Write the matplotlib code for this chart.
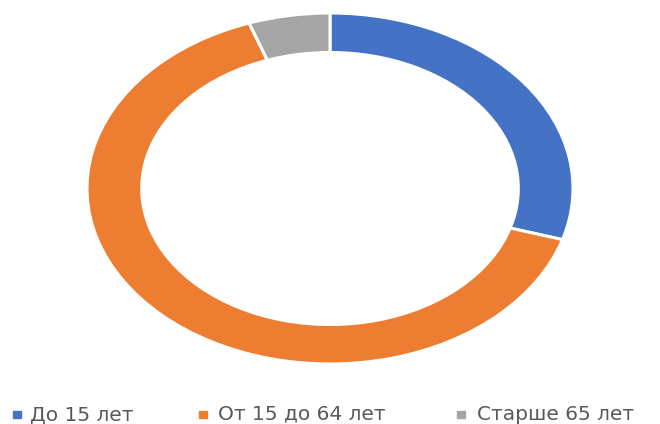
import matplotlib
matplotlib.use("Agg")
import matplotlib.pyplot as plt
from matplotlib.patches import Rectangle

labels = ["До 15 лет", "От 15 до 64 лет", "Старше 65 лет"]
shares = [29.7, 64.9, 5.4]
colors = ["#4472C4", "#ED7D31", "#A5A5A5"]

fig = plt.figure(figsize=(6.6, 4.24), dpi=100)
ax = fig.add_axes([87 / 660, 60 / 424, 486 / 660, 351 / 424])

ax.pie(
    shares,
    colors=colors,
    startangle=90,
    counterclock=False,
    radius=1.0,
    wedgeprops=dict(width=0.225, edgecolor="white", linewidth=2.2),
)
ax.set_aspect("auto")
ax.set_xlim(-1, 1)
ax.set_ylim(-1, 1)
ax.axis("off")

# legend drawn by hand so the items sit where the reference has them
text_x = [30, 218, 477]
box_x = [13, 199, 457]
for lab, col, tx, bx in zip(labels, colors, text_x, box_x):
    fig.patches.append(
        Rectangle((bx / 660, (424 - 418) / 424), 8 / 660, 7 / 424,
                  transform=fig.transFigure, color=col, figure=fig)
    )
    fig.text(tx / 660, (424 - 414.5) / 424, lab, fontsize=14.5,
             family="DejaVu Sans", color="#595959", va="center", ha="left")

fig.savefig("out.png", dpi=100)
